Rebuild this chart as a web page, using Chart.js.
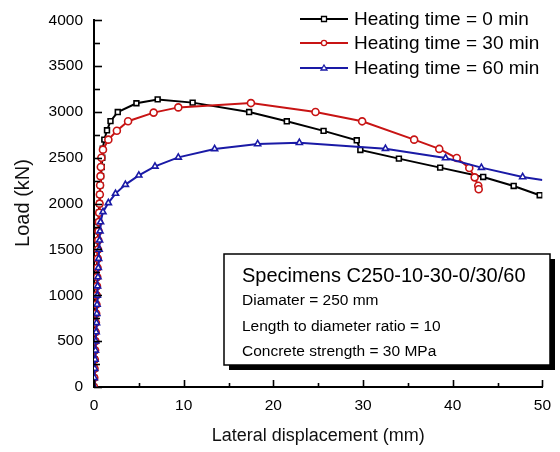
<!DOCTYPE html>
<html><head><meta charset="utf-8">
<script src="https://cdn.jsdelivr.net/npm/chart.js@4/dist/chart.umd.min.js"></script>
<style>html,body{margin:0;padding:0;background:#fff}#wrap{width:560px;height:452px}</style>
</head><body><div id="wrap"><canvas id="c" width="560" height="452"></canvas></div>
<script>
// ---- data ----
const seriesNames = ["Heating time = 0 min", "Heating time = 30 min", "Heating time = 60 min"];
const disp0 = [0,0.03,0.05,0.08,0.1,0.12,0.15,0.17,0.2,0.22,0.25,0.28,0.3,0.33,0.36,0.4,0.43,0.47,0.5,0.55,0.6,0.65,0.7,0.78,0.85,0.92,0.98,1.15,1.45,1.84,2.65,4.73,7.1,11.0,17.3,21.5,25.6,29.3,29.7,34.0,38.6,43.4,46.8,49.7];
const load0 = [0,100,200,300,400,500,600,700,800,900,1000,1100,1200,1300,1400,1500,1600,1700,1800,1900,2000,2100,2200,2300,2400,2500,2600,2698,2800,2900,2999,3095,3137,3102,2999,2898,2794,2691,2586,2491,2393,2291,2193,2092];
const disp30 = [0,0.03,0.06,0.09,0.12,0.15,0.18,0.21,0.24,0.27,0.3,0.33,0.36,0.39,0.42,0.45,0.48,0.51,0.55,0.58,0.62,0.65,0.68,0.72,0.76,0.82,1.0,1.6,2.55,3.8,6.65,9.4,17.5,24.7,29.9,35.7,38.5,40.45,41.85,42.45,42.85,42.9];
const load30 = [0,100,200,300,400,500,600,700,800,900,1000,1100,1200,1300,1400,1500,1600,1700,1800,1900,2000,2100,2200,2300,2400,2500,2589,2698,2795,2899,2993,3050,3097,2999,2898,2698,2597,2498,2389,2287,2195,2157];
const disp60 = [0,0.04,0.08,0.12,0.16,0.2,0.24,0.28,0.31,0.34,0.37,0.4,0.44,0.48,0.52,0.57,0.62,0.67,0.73,1.0,1.6,2.4,3.5,5.0,6.8,9.4,13.45,18.25,22.9,32.5,39.2,43.2,47.8,50.0];
const load60 = [0,100,200,300,400,500,600,700,800,900,1000,1100,1200,1300,1400,1500,1600,1700,1800,1910,2008,2110,2208,2309,2407,2505,2597,2651,2665,2600,2498,2393,2291,2258];
const xTicks = [0,10,20,30,40,50];
const yTicks = [0,500,1000,1500,2000,2500,3000,3500,4000];
const boxLines = ["Specimens C250-10-30-0/30/60","Diamater = 250 mm","Length to diameter ratio = 10","Concrete strength = 30 MPa"];

const colors = ["#000000","#c81414","#1a1aa6"];
const styles = ["rect","circle","triangle"];
const drawOrder = [2, 1, 0];
const FONT = "'Liberation Sans', Arial, Helvetica, sans-serif";

function pts(xs, ys){ return xs.map((x,i)=>({x:x, y:ys[i]})); }
const allData = [pts(disp0,load0), pts(disp30,load30), pts(disp60,load60)];

const datasets = allData.map((d,i)=>({
  label: seriesNames[i],
  data: d,
  order: drawOrder[i],
  borderColor: colors[i],
  borderWidth: 2,
  pointStyle: styles[i],
  pointRadius: (ctx)=> (i===2 && ctx.dataIndex===d.length-1) ? 0 : (i===0?3.4:3.5),
  pointBackgroundColor: "#ffffff",
  pointBorderColor: colors[i],
  pointBorderWidth: 1.6,
  tension: 0,
  fill: false
}));

const decor = {
  id: "decor",
  afterDraw(chart){
    const ctx = chart.ctx, xs = chart.scales.x, ys = chart.scales.y, a = chart.chartArea;
    ctx.save();
    // inward ticks
    ctx.strokeStyle = "#000"; ctx.lineWidth = 1.6;
    for (let v = 0; v <= 4000; v += 250) {
      const y = Math.round(ys.getPixelForValue(v)) + 0.5;
      const len = (v % 500 === 0) ? 8 : 6;
      ctx.beginPath(); ctx.moveTo(a.left, y); ctx.lineTo(a.left + len, y); ctx.stroke();
    }
    for (let v = 0; v <= 50; v += 5) {
      const x = Math.round(xs.getPixelForValue(v)) + 0.5;
      const len = (v % 10 === 0) ? 7 : 4;
      ctx.beginPath(); ctx.moveTo(x, a.bottom); ctx.lineTo(x, a.bottom - len); ctx.stroke();
    }
    // axis titles
    ctx.fillStyle = "#111";
    ctx.font = "18px " + FONT;
    ctx.textAlign = "center"; ctx.textBaseline = "middle";
    ctx.fillText("Lateral displacement (mm)", (a.left + a.right)/2, 436);
    ctx.save();
    ctx.translate(23, 203); ctx.rotate(-Math.PI/2);
    ctx.font = "20px " + FONT;
    ctx.fillText("Load (kN)", 0, 0);
    ctx.restore();
    // legend
    const rows = [19, 43, 68];
    chart.data.datasets.forEach((ds, i) => {
      const y = rows[i];
      ctx.strokeStyle = ds.borderColor; ctx.lineWidth = 2;
      ctx.beginPath(); ctx.moveTo(300, y); ctx.lineTo(348, y); ctx.stroke();
      ctx.fillStyle = "#fff";
      ctx.strokeStyle = ds.borderColor;
      ctx.beginPath();
      if (ds.pointStyle === "rect") { ctx.rect(321.5, y-2.5, 5, 5); }
      else if (ds.pointStyle === "circle") { ctx.arc(324, y, 2.6, 0, Math.PI*2); }
      else { ctx.moveTo(324, y-3); ctx.lineTo(327, y+2); ctx.lineTo(321, y+2); ctx.closePath(); }
      ctx.fill(); ctx.lineWidth = 1.3; ctx.stroke();
      ctx.fillStyle = "#000";
      ctx.font = "19px " + FONT;
      ctx.textAlign = "left"; ctx.textBaseline = "middle";
      ctx.fillText(ds.label, 354, y + 1);
    });
    // info box with shadow
    const bx = 224, by = 254, bw = 326, bh = 111;
    ctx.fillStyle = "#000";
    ctx.fillRect(bx + 5, by + 5, bw, bh);
    ctx.fillStyle = "#fff";
    ctx.fillRect(bx, by, bw, bh);
    ctx.strokeStyle = "#000"; ctx.lineWidth = 1.5;
    ctx.strokeRect(bx, by, bw, bh);
    ctx.fillStyle = "#000"; ctx.textAlign = "left"; ctx.textBaseline = "alphabetic";
    ctx.font = "20px " + FONT;
    ctx.fillText(boxLines[0], 242, 282);
    ctx.font = "15.5px " + FONT;
    ctx.fillText(boxLines[1], 242, 305);
    ctx.fillText(boxLines[2], 242, 331);
    ctx.fillText(boxLines[3], 242, 356);
    ctx.restore();
  }
};

new Chart(document.getElementById("c"), {
  type: "line",
  data: { datasets },
  options: {
    responsive: false,
    animation: false,
    devicePixelRatio: 1,
    layout: { padding: { top: 20, right: 12, left: 0, bottom: 0 } },
    plugins: { legend: { display: false }, tooltip: { enabled: false } },
    scales: {
      x: {
        type: "linear", min: 0, max: 50,
        afterFit: (s) => { s.height = 65; },
        afterBuildTicks: (s) => { s.ticks = xTicks.map(v => ({value: v})); },
        grid: { color: "transparent", drawTicks: false },
        border: { display: true, color: "#000", width: 2 },
        ticks: { padding: 9, color: "#000", font: { family: FONT, size: 15.5 }, callback: (v) => String(v) }
      },
      y: {
        type: "linear", min: 0, max: 4000,
        afterFit: (s) => { s.width = 94; },
        afterBuildTicks: (s) => { s.ticks = yTicks.map(v => ({value: v})); },
        grid: { color: "transparent", drawTicks: false },
        border: { display: true, color: "#000", width: 2 },
        ticks: { padding: 11, color: "#000", font: { family: FONT, size: 15.5 }, callback: (v) => String(v) }
      }
    }
  },
  plugins: [decor]
});
</script></body></html>
